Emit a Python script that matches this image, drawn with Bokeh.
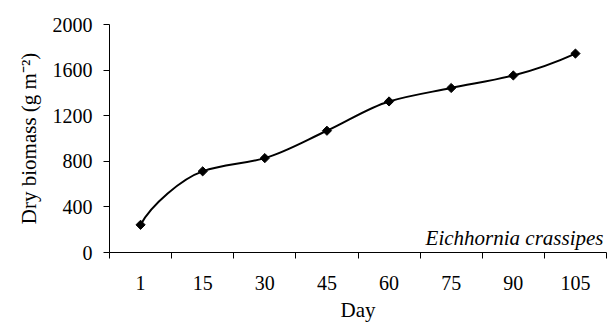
import numpy as np
from bokeh.plotting import figure
from bokeh.models import FixedTicker, Label
from bokeh.embed import file_html
from bokeh.resources import INLINE

# ---- data ----
days = ["1", "15", "30", "45", "60", "75", "90", "105"]
biomass = [243, 712, 828, 1068, 1325, 1443, 1553, 1745]
y_ticks = [0, 400, 800, 1200, 1600, 2000]
species = "Eichhornia crassipes"
x_title = "Day"
y_title = "Dry biomass (g m\u207b\u00b2)"

# ---- layout ----
W, H = 607, 325
BL, BR, BT, BB = 109, 1, 24, 73
FW, FH = W - BL - BR, H - BT - BB
FONT = "Liberation Serif"

n = len(days)
xs = np.arange(n) + 0.5
ys = np.array(biomass, dtype=float)
sx = FW / n
sy = FH / 2000.0

# ---- smooth curve (bezier segments through the data points) ----
d = np.diff(ys) / np.diff(xs)
m = np.zeros(n)
for i in range(1, n - 1):
    m[i] = 2.0 / (1.0 / d[i - 1] + 1.0 / d[i]) if d[i - 1] * d[i] > 0 else 0.0


def reflect(P, Q, C):
    P = np.array([P[0] * sx, P[1] * sy])
    Q = np.array([Q[0] * sx, Q[1] * sy])
    C = np.array([C[0] * sx, C[1] * sy])
    M = (P + Q) / 2
    u = (Q - P) / np.linalg.norm(Q - P)
    v = C - M
    r = v - 2 * np.dot(v, u) * u
    R = M + r
    return R[0] / sx, R[1] / sy


x0, y0, x1, y1, cx0, cy0, cx1, cy1 = [], [], [], [], [], [], [], []
for i in range(n - 1):
    P = (xs[i], ys[i])
    Q = (xs[i + 1], ys[i + 1])
    C1 = (xs[i] + 1 / 3, ys[i] + m[i] / 3)
    C2 = (xs[i + 1] - 1 / 3, ys[i + 1] - m[i + 1] / 3)
    if i == 0:
        C1 = reflect(P, Q, C2)
    if i == n - 2:
        C2 = reflect(P, Q, C1)
    x0.append(P[0]); y0.append(P[1]); x1.append(Q[0]); y1.append(Q[1])
    cx0.append(C1[0]); cy0.append(C1[1]); cx1.append(C2[0]); cy1.append(C2[1])

p = figure(width=W, height=H, x_range=(0, n), y_range=(0, 2000),
           output_backend="svg", toolbar_location=None,
           min_border_left=BL, min_border_right=BR,
           min_border_top=BT, min_border_bottom=BB)
p.outline_line_color = None
p.xgrid.visible = False
p.ygrid.visible = False
p.background_fill_color = "white"
p.border_fill_color = "white"

p.bezier(x0=x0, y0=y0, x1=x1, y1=y1, cx0=cx0, cy0=cy0, cx1=cx1, cy1=cy1,
         line_color="black", line_width=2)
p.scatter(xs, ys, marker="square", angle=np.pi / 4, size=6.5,
          fill_color="black", line_color="black")

# x axis
xa = p.xaxis[0]
xa.ticker = FixedTicker(ticks=list(xs), minor_ticks=list(range(n + 1)))
xa.major_label_overrides = {float(x): lab for x, lab in zip(xs, days)}
xa.major_tick_out = 0
xa.major_tick_in = 0
xa.minor_tick_out = 6
xa.minor_tick_in = 0
xa.minor_tick_line_color = "black"
xa.axis_line_color = "black"
xa.major_label_text_font = FONT
xa.major_label_text_font_size = "20px"
xa.major_label_text_color = "black"
xa.major_label_standoff = 17
xa.axis_label = x_title
xa.axis_label_text_font = FONT
xa.axis_label_text_font_size = "21px"
xa.axis_label_text_font_style = "normal"
xa.axis_label_text_color = "black"
xa.axis_label_standoff = 5

# y axis
ya = p.yaxis[0]
ya.ticker = FixedTicker(ticks=y_ticks)
ya.major_tick_out = 6
ya.major_tick_in = 0
ya.minor_tick_out = 0
ya.minor_tick_in = 0
ya.major_tick_line_color = "black"
ya.axis_line_color = "black"
ya.major_label_text_font = FONT
ya.major_label_text_font_size = "20px"
ya.major_label_text_color = "black"
ya.major_label_standoff = 11
ya.axis_label = y_title
ya.axis_label_text_font = FONT
ya.axis_label_text_font_size = "21px"
ya.axis_label_text_font_style = "normal"
ya.axis_label_text_color = "black"
ya.axis_label_standoff = 9

p.add_layout(Label(x=n, y=0, text=species, text_align="right",
                   text_baseline="bottom", x_offset=-3, y_offset=3,
                   text_font=FONT, text_font_size="21px",
                   text_font_style="italic", text_color="black"))

open("out.html", "w").write(file_html(p, INLINE))
